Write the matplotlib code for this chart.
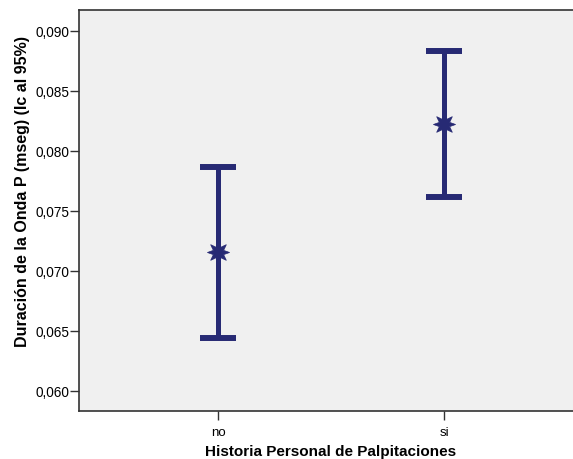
import matplotlib
matplotlib.use("Agg")
import matplotlib.pyplot as plt

categories = ["no", "si"]
means = [0.07156, 0.08225]
lower = [0.06442, 0.07619]
upper = [0.07869, 0.08833]
yticks = [0.060, 0.065, 0.070, 0.075, 0.080, 0.085, 0.090]
ytick_labels = ["0,060", "0,065", "0,070", "0,075", "0,080", "0,085", "0,090"]

plt.rcParams['font.family'] = ['Liberation Sans', 'DejaVu Sans']

W, H = 573, 460
fig = plt.figure(figsize=(W / 100, H / 100), dpi=100)
left, right, top, bottom = 79, 583, 11, 412
ax = fig.add_axes([left / W, 1 - bottom / H, (right - left) / W, (bottom - top) / H])
ax.set_facecolor("#F0F0F0")

color = "#272A74"
x = list(range(len(categories)))
yerr = [[m - l for m, l in zip(means, lower)], [u - m for m, u in zip(means, upper)]]
ax.errorbar(x, means, yerr=yerr, fmt="none", ecolor=color, elinewidth=3.6,
            capsize=13.3, capthick=4.3, zorder=2)
ax.plot(x, means, linestyle="none", marker=(8, 1, 0), markersize=16,
        color=color, markeredgewidth=0.5, zorder=3)

ax.set_xlim(-0.615, 1.615)
ax.set_ylim(0.05833, 0.09175)
ax.set_xticks(x)
ax.set_xticklabels(categories, fontsize=9.5)
ax.set_yticks(yticks)
ax.set_yticklabels(ytick_labels, fontsize=9.8)
ax.tick_params(axis="both", direction="out", length=6.5, width=1, color="#333333", pad=0.5)
ax.tick_params(axis="x", pad=4.5)
ax.spines["right"].set_visible(False)
for s in ax.spines.values():
    s.set_color("#333333")
    s.set_linewidth(1.2)

ax.set_ylabel("Duración de la Onda P (mseg) (Ic al 95%)", fontsize=11.5, fontweight="bold")
ax.yaxis.set_label_coords(-0.097, 0.549)
ax.set_xlabel("Historia Personal de Palpitaciones", fontsize=11, fontweight="bold", labelpad=4)

fig.savefig("out.png", dpi=100, facecolor="white")
